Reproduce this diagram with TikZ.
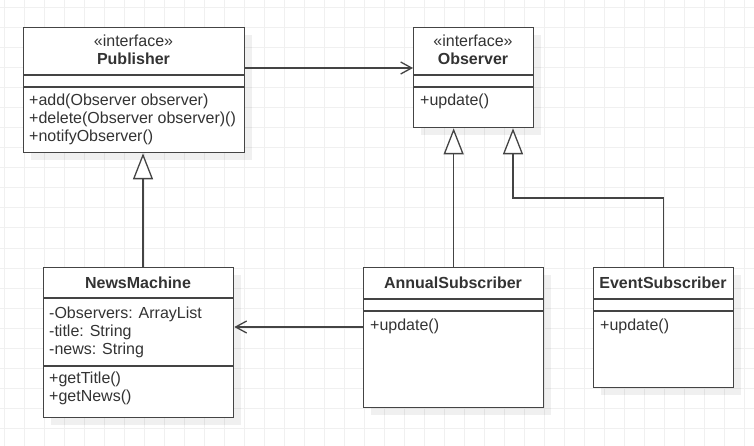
\documentclass[tikz,border=0pt]{standalone}
\usepackage{fontspec}
\setmainfont{Liberation Sans}
\usetikzlibrary{arrows.meta,shadows}
\definecolor{ln}{HTML}{444444}
\definecolor{tx}{HTML}{333333}
\definecolor{gridc}{HTML}{F0F0F0}
\begin{document}
\begin{tikzpicture}[x=1pt,y=-1pt,
  box/.style={draw=ln, line width=1.3pt, fill=white, inner sep=0pt, anchor=north west,
    drop shadow={shadow xshift=7pt,shadow yshift=-7pt,fill=black,opacity=0.06}},
  div/.style={draw=ln, line width=1.3pt},
  ttl/.style={font=\fontsize{16}{19}\selectfont\bfseries, text=tx, anchor=base, inner sep=0pt},
  ster/.style={font=\fontsize{16}{19}\selectfont, text=tx, anchor=base, inner sep=0pt},
  mem/.style={font=\fontsize{16}{19}\selectfont, text=tx, anchor=base west, inner sep=0pt},
  gen/.style={draw=ln, line width=1.3pt, -{Triangle[open,fill=white,length=26pt,width=20pt]}},
  assoc/.style={draw=ln, line width=1.3pt, -{Straight Barb[length=11pt,width=12pt]}}]
\useasboundingbox (0,0) rectangle (754,446);
\fill[white] (0,0) rectangle (754,446);
\foreach \x in {4,24,...,744} \draw[gridc, line width=1pt] (\x,0) -- (\x,446);
\foreach \y in {8,28,...,438} \draw[gridc, line width=1pt] (0,\y) -- (754,\y);

% Publisher
\node[box, minimum width=221pt, minimum height=125pt] (pub) at (23,27) {};
\draw[div] (23,75) -- (244,75);
\draw[div] (23,87) -- (244,87);
\node[ster] (pubs) at (133.5,47) {«interface»};
\node[ttl] (pubt) at (133.5,65) {Publisher};
\node[mem] (pubm1) at (29,106) {+add(Observer observer)};
\node[mem] (pubm2) at (29,124) {+delete(Observer observer)()};
\node[mem] (pubm3) at (29,142) {+notifyObserver()};

% Observer
\node[box, minimum width=120pt, minimum height=100pt] (obs) at (413,27) {};
\draw[div] (413,75) -- (533,75);
\draw[div] (413,87) -- (533,87);
\node[ster] (obss) at (473,47) {«interface»};
\node[ttl] (obst) at (473,65) {Observer};
\node[mem] (obsm1) at (420,106) {+update()};

% NewsMachine
\node[box, minimum width=190pt, minimum height=150pt] (nm) at (43,267) {};
\draw[div] (43,298) -- (233,298);
\draw[div] (43,366) -- (233,366);
\node[ttl] (nmt) at (138,288) {NewsMachine};
\node[mem] (nma1) at (49,318) {-Observers: ArrayList};
\node[mem] (nma2) at (49,336) {-title: String};
\node[mem] (nma3) at (49,354) {-news: String};
\node[mem] (nmm1) at (49,383) {+getTitle()};
\node[mem] (nmm2) at (49,401) {+getNews()};

% AnnualSubscriber
\node[box, minimum width=180pt, minimum height=140pt] (ann) at (363,267) {};
\draw[div] (363,299) -- (543,299);
\draw[div] (363,311) -- (543,311);
\node[ttl] (annt) at (453,288) {AnnualSubscriber};
\node[mem] (annm1) at (370,330) {+update()};

% EventSubscriber
\node[box, minimum width=140pt, minimum height=120pt] (ev) at (593,267) {};
\draw[div] (593,299) -- (733,299);
\draw[div] (593,311) -- (733,311);
\node[ttl] (evt) at (663,288) {EventSubscriber};
\node[mem] (evm1) at (600,330) {+update()};

% connectors
\coordinate (y68) at (0,68);
\coordinate (y327) at (0,327);
\coordinate (x143) at (143,0);
\coordinate (bend) at (513,198);
\draw[assoc] (pub.east |- y68) -- (obs.west |- y68);
\draw[assoc] (ann.west |- y327) -- (nm.east |- y327);
\draw[gen] (nm.north -| x143) -- (pub.south -| x143);
\draw[gen] (ann.north) -- (ann.north |- obs.south);
\draw[gen] (ev.north) |- (bend) -- (bend |- obs.south);
\end{tikzpicture}
\end{document}
